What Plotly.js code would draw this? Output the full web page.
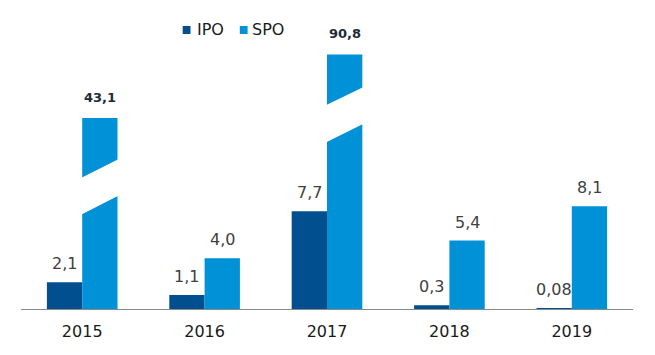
<!DOCTYPE html>
<html>
<head>
<meta charset="utf-8">
<script src="https://cdn.plot.ly/plotly-3.0.1.min.js"></script>
<style>html,body{margin:0;padding:0;background:#fff;}#chart{width:655px;height:355px;}</style>
</head>
<body>
<div id="chart"></div>
<script>
// ---- data ----
const years = ['2015', '2016', '2017', '2018', '2019'];
const ipo = [2.1, 1.1, 7.7, 0.3, 0.08];
const spo = [43.1, 4.0, 90.8, 5.4, 8.1];
// drawn height of SPO bars on the cut (broken) axis; null = drawn to scale
const spoCutHeight = [15.06, null, 20.08, null, null];
// axis-break bands on the broken bars: [left, right] edge heights
const breakYears = ['2015', '2017'];
const breakLow = [[7.44, 8.96], [13.14, 14.61]];
const breakHigh = [[10.33, 11.83], [16.06, 17.51]];
const seriesNames = ['IPO', 'SPO'];

// ---- style ----
const C_IPO = '#024F8F';
const C_SPO = '#0091D6';
const FONT = 'DejaVu Sans, Verdana, sans-serif';
const M = {l: 21, r: 22, t: 10, b: 46};
const W = 655, H = 355;
const PW = W - M.l - M.r, PH = H - M.t - M.b;
const BARGAP = 0.423;
const N = years.length;
const barHalfPx = (1 - BARGAP) / 4 * (PW / N);

const fmt = v => (v < 0.1 ? v.toFixed(2) : v.toFixed(1)).replace('.', ',');
const spoShown = spo.map((v, i) => spoCutHeight[i] == null ? v : spoCutHeight[i]);

const traces = [
  {type: 'bar', name: seriesNames[0], x: years, y: ipo, marker: {color: C_IPO}, hoverinfo: 'skip'},
  {type: 'bar', name: seriesNames[1], x: years, y: spoShown, marker: {color: C_SPO}, hoverinfo: 'skip'}
];

const annotations = [];
years.forEach((yr, i) => {
  // x given as category index (i) on the category axis
  annotations.push({x: i, y: ipo[i], xref: 'x', yref: 'y', text: fmt(ipo[i]), showarrow: false,
    xanchor: 'center', yanchor: 'bottom', xshift: -barHalfPx, yshift: 7,
    font: {family: FONT, size: 16, color: '#404040'}});
  const broken = spoCutHeight[i] != null;
  annotations.push({x: i, y: spoShown[i], xref: 'x', yref: 'y',
    text: broken ? '<b>' + fmt(spo[i]) + '</b>' : fmt(spo[i]), showarrow: false,
    xanchor: 'center', yanchor: 'bottom', xshift: barHalfPx, yshift: broken ? 11 : 7,
    font: {family: FONT, size: broken ? 13 : 16, color: broken ? '#1E2A38' : '#404040'}});
});

// legend drawn as annotation text + square shapes
const px2x = px => (px - M.l) / PW;
const py2y = py => (M.t + PH - py) / PH;
const legendItems = [
  {name: seriesNames[0], color: C_IPO, sq: [182.7, 190.5], tx: 195},
  {name: seriesNames[1], color: C_SPO, sq: [239.8, 247.6], tx: 250}
];
const shapes = [];
legendItems.forEach(it => {
  shapes.push({type: 'rect', xref: 'paper', yref: 'paper', x0: px2x(it.sq[0]), x1: px2x(it.sq[1]),
    y0: py2y(34), y1: py2y(26), fillcolor: it.color, line: {width: 0}});
  annotations.push({xref: 'paper', yref: 'paper', x: px2x(it.tx), y: py2y(30), text: it.name,
    showarrow: false, xanchor: 'left', yanchor: 'middle',
    font: {family: FONT, size: 16, color: '#1a1a1a'}});
});

// axis-break bands (white parallelograms) across the broken SPO bars
const barW = (1 - BARGAP) / 2;           // bar width in category units
const cat2paper = c => (c + 0.5) / N;    // category index -> paper x (range -0.5..N-0.5)
breakYears.forEach((yr, k) => {
  const i = years.indexOf(yr);
  const x0 = cat2paper(i - 0.01), x1 = cat2paper(i + barW + 0.01);
  const lo = breakLow[k], hi = breakHigh[k];
  shapes.push({type: 'path', xref: 'paper', yref: 'y', layer: 'above',
    path: `M ${x0},${lo[0]} L ${x1},${lo[1]} L ${x1},${hi[1]} L ${x0},${hi[0]} Z`,
    fillcolor: '#ffffff', line: {width: 0}});
});

const layout = {
  width: W, height: H,
  margin: {l: M.l, r: M.r, t: M.t, b: M.b, pad: 0},
  paper_bgcolor: '#ffffff', plot_bgcolor: '#ffffff',
  barmode: 'group', bargap: BARGAP, bargroupgap: 0,
  showlegend: false,
  font: {family: FONT},
  xaxis: {type: 'category', range: [-0.5, N - 0.5], autorange: false,
    showline: true, linecolor: '#898989', linewidth: 1,
    ticks: '', showgrid: false, zeroline: false, ticklabelstandoff: 8,
    tickfont: {family: FONT, size: 16, color: '#1a1a1a'}},
  yaxis: {range: [0, PH / 12.68], autorange: false, showticklabels: false, showgrid: false,
    zeroline: false, showline: false, ticks: ''},
  annotations: annotations,
  shapes: shapes
};

Plotly.newPlot('chart', traces, layout, {staticPlot: true, displayModeBar: false});
</script>
</body>
</html>
